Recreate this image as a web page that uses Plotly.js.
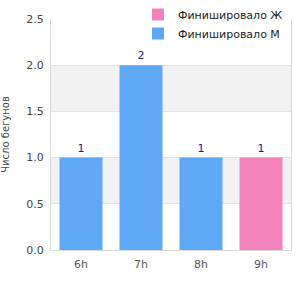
<!DOCTYPE html>
<html>
<head>
<meta charset="utf-8">
<script src="https://cdn.plot.ly/plotly-3.0.1.min.js"></script>
<style>html,body{margin:0;padding:0;background:#fff;}#chart{width:300px;height:300px;}</style>
</head>
<body>
<div id="chart"></div>
<script>
const categories = ["6h", "7h", "8h", "9h"];
const finishedM = [1, 2, 1, null];
const finishedF = [null, null, null, 1];
const seriesNames = ["Финишировало Ж", "Финишировало М"];
const yTitle = "Число бегунов";
const bands = [[0.5, 1.0], [1.5, 2.0]];

const labelFont = {family: "DejaVu Sans, sans-serif", size: 11, color: "#1a1a8a"};

const traces = [
  {
    type: "bar", name: seriesNames[1], x: categories, y: finishedM,
    marker: {color: "#5fa8f5"},
    text: finishedM.map(v => v == null ? "" : String(v)),
    textposition: "outside", textfont: labelFont, cliponaxis: false,
    hoverinfo: "none"
  },
  {
    type: "bar", name: seriesNames[0], x: categories, y: finishedF,
    marker: {color: "#f282bb"},
    text: finishedF.map(v => v == null ? "" : String(v)),
    textposition: "outside", textfont: labelFont, cliponaxis: false,
    hoverinfo: "none"
  }
];

const shapes = bands.map(b => ({
  type: "rect", xref: "paper", yref: "y", x0: 0, x1: 1, y0: b[0], y1: b[1],
  fillcolor: "#f2f2f2", line: {width: 0}, layer: "below"
}));

const layout = {
  width: 300, height: 300,
  margin: {l: 51, r: 9, t: 19, b: 50, autoexpand: false},
  paper_bgcolor: "#fff", plot_bgcolor: "rgba(0,0,0,0)",
  font: {family: "DejaVu Sans, sans-serif", size: 11, color: "#444"},
  barmode: "overlay",
  bargap: 0.283,
  showlegend: true,
  legend: {
    xref: "container", yref: "container",
    x: 0.96, xanchor: "right", y: 1.03, yanchor: "top",
    bgcolor: "#fff", traceorder: "reversed",
    font: {size: 11, color: "#222"}
  },
  xaxis: {
    type: "category", showline: true, linecolor: "#d9d9d9", linewidth: 1,
    ticks: "", showgrid: false, tickfont: {size: 11, color: "#555"},
    ticklabelstandoff: 4
  },
  yaxis: {
    range: [0, 2.5], dtick: 0.5, tickformat: ".1f",
    showline: true, mirror: true, linecolor: "#d9d9d9", linewidth: 1,
    showgrid: true, gridcolor: "#e3e3e3", zeroline: false, ticks: "",
    tickfont: {size: 11, color: "#444"}, ticklabelstandoff: 4,
    title: {text: yTitle, font: {size: 10, color: "#444"}, standoff: 14}
  },
  shapes: shapes
};

Plotly.newPlot("chart", traces, layout, {displayModeBar: false, staticPlot: true});
</script>
</body>
</html>
